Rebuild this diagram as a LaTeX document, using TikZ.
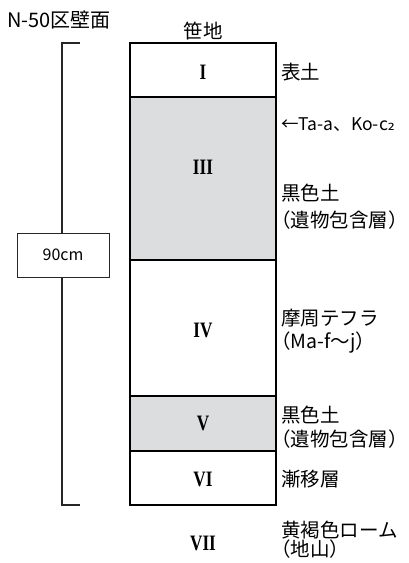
\documentclass[tikz,border=0pt]{standalone}
\usepackage{fontspec}
\setmainfont{Noto Sans CJK JP}
\newfontfamily\romfont{Liberation Serif}
\newfontfamily\subfont{DejaVu Sans}
\definecolor{layergray}{HTML}{DCDDDE}
\newcommand{\romnum}[1]{\scalebox{0.78}[1]{#1}}
\begin{document}
\begin{tikzpicture}[x=1pt,y=-1pt,
  lbl/.style={anchor=west,inner sep=0pt,font=\fontsize{19.5}{19}\selectfont},
  plbl/.style={lbl,xshift=-10pt},
  num/.style={inner sep=0pt,font=\romfont\bfseries\fontsize{22}{22}\selectfont},
  layer/.style={draw=black,line width=2.8pt},
  brk/.style={draw=black!85,line width=1.2pt}]
\useasboundingbox (0,0) rectangle (408,563);
% layers
\filldraw[layer,fill=white] (130,43) rectangle (276,97);
\filldraw[layer,fill=layergray] (130,97) rectangle (276,260);
\filldraw[layer,fill=white] (130,260) rectangle (276,396);
\filldraw[layer,fill=layergray] (130,396) rectangle (276,451);
\filldraw[layer,fill=white] (130,451) rectangle (276,505);
% titles
\node[inner sep=0pt,anchor=west,font=\fontsize{20}{20}\selectfont] (title) at (7,20) {N-50区壁面};
\node[inner sep=0pt,font=\fontsize{19.5}{19}\selectfont] (sasachi) at (203,31) {笹地};
% numerals
\node[num] (n1) at (203,72) {\romnum{I}};
\node[num] (n3) at (203,167) {\romnum{III}};
\node[num] (n4) at (203,330) {\romnum{IV}};
\node[num] (n5) at (203,423) {\romnum{V}};
\node[num] (n6) at (203,479) {\romnum{VI}};
\node[num] (n7) at (203,543) {\romnum{VII}};
% right labels
\node[lbl] (l1) at (281,72) {表土};
\node[lbl,font=\fontsize{17.5}{17}\selectfont] (l2) at (281,125) {←Ta-a、Ko-c{\subfont ₂}};
\node[lbl] (l3a) at (281,193) {黒色土};
\node[plbl] (l3b) at (281,220) {（遺物包含層）};
\node[lbl] (l4a) at (281,318) {摩周テフラ};
\node[plbl] (l4b) at (281,343) {（Ma-f〜j）};
\node[lbl] (l5a) at (281,415) {黒色土};
\node[plbl] (l5b) at (281,439) {（遺物包含層）};
\node[lbl] (l6) at (281,479) {漸移層};
\node[lbl] (l7a) at (281,530) {黄褐色ローム};
\node[plbl] (l7b) at (281,549) {（地山）};
% bracket
\coordinate (t0) at (80,43);
\coordinate (t1) at (62,43);
\coordinate (b0) at (80,505);
\coordinate (b1) at (62,505);
\node[draw=black!85,line width=1pt,minimum width=92pt,minimum height=44pt,inner sep=0pt,font=\fontsize{16}{16}\selectfont] (cm) at (63,255) {90cm};
\draw[brk] (t0) -- (t1) -- (t1 |- cm.north);
\draw[brk] (b0) -- (b1) -- (b1 |- cm.south);
\end{tikzpicture}
\end{document}
